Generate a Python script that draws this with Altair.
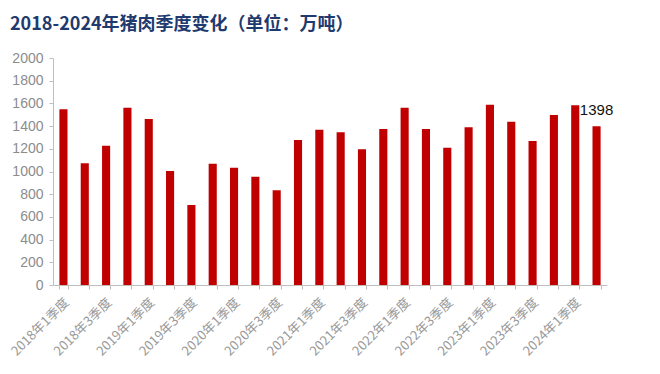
import altair as alt
import pandas as pd

quarters = [f"{y}年{q}季度" for y in range(2018, 2025) for q in range(1, 5)][:26]
values = [1548, 1072, 1227, 1562, 1462, 1004, 705, 1069, 1033, 954, 834, 1277, 1368,
          1345, 1195, 1374, 1562, 1374, 1210, 1389, 1589, 1439, 1269, 1498, 1583, 1398]
y_ticks = list(range(0, 2001, 200))

df = pd.DataFrame({"quarter": quarters, "value": values})
last = df.iloc[[-1]]

FONT = "Liberation Sans"

x = alt.X("quarter:N", sort=quarters, title=None,
          scale=alt.Scale(paddingInner=0.62, paddingOuter=0.3),
          axis=alt.Axis(labelAngle=-45, labelAlign="right", labelBaseline="middle",
                        labelExpr="indexof(datum.label,'年1季度')>=0 || indexof(datum.label,'年3季度')>=0 ? datum.label : ''",
                        labelOverlap=False, labelFontSize=13, labelColor="#999999",
                        labelFont="Noto Sans CJK SC", labelPadding=11, labelOffset=3,
                        tickBand="extent", tickSize=4, tickColor="#BFBFBF",
                        domainColor="#BFBFBF", grid=False))
y = alt.Y("value:Q", title=None,
          scale=alt.Scale(domain=[0, 2000], nice=False),
          axis=alt.Axis(values=y_ticks, format="d", labelOverlap=False,
                        labelSeparation=0, labelFontSize=14, labelColor="#8C8C8C",
                        labelFont=FONT, tickSize=4, tickColor="#BFBFBF",
                        domainColor="#BFBFBF", grid=False, labelPadding=6))

bars = alt.Chart(df).mark_bar(color="#C00000").encode(x=x, y=y)
label = alt.Chart(last).mark_text(fontSize=15, font=FONT, color="#111111",
                                  baseline="bottom", dy=-8).encode(
    x=x, y=y, text=alt.Text("value:Q"))

chart = (bars + label).properties(
    width=554, height=227,
    title=alt.TitleParams("2018-2024年猪肉季度变化（单位：万吨）", anchor="start",
                          frame="group", dx=-43, offset=17, fontSize=18,
                          fontWeight="bold", color="#1F3A6E",
                          font="Noto Sans CJK SC"),
    autosize=alt.AutoSizeParams(type="none"),
    padding={"left": 45, "top": 50, "right": 45, "bottom": 81},
).configure_view(stroke=None)

chart.save("out.html", embed_options={"renderer": "svg", "actions": False})
